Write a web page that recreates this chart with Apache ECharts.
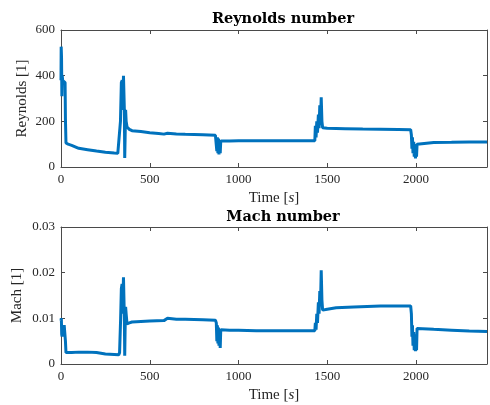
<!DOCTYPE html>
<html>
<head>
<meta charset="utf-8">
<script src="https://cdn.jsdelivr.net/npm/echarts@6/dist/echarts.min.js"></script>
<style>
html, body { margin: 0; padding: 0; background: #fff; }
#chart { width: 490px; height: 405px; }
</style>
</head>
<body>
<div id="chart"></div>
<script>
// time samples [s] and Reynolds number
var timeRe = [0, 1, 3, 5, 7, 9, 15, 20, 23, 25, 28, 32, 40, 60, 100, 150, 200, 250, 300, 320,
	328, 335, 340, 345, 348, 352, 355, 357, 359, 361, 364, 367, 372, 385, 400, 450, 500, 550, 580, 590,
	600, 650, 700, 800, 870, 875, 878, 881, 884, 887, 890, 893, 897, 900, 950, 1000, 1100, 1200, 1300, 1400,
	1430, 1433, 1437, 1441, 1445, 1450, 1454, 1458, 1462, 1466, 1470, 1474, 1500, 1600, 1700, 1800, 1900, 1970, 1974, 1977,
	1980, 1983, 1987, 1990, 1994, 1997, 2000, 2003, 2006, 2010, 2100, 2200, 2300, 2400];
var reynolds = [380, 527, 480, 310, 400, 380, 385, 375, 370, 210, 105, 104, 100, 95, 82, 76, 70, 65, 61, 60,
	62, 200, 370, 380, 250, 400, 405, 250, 40, 120, 250, 200, 175, 165, 159, 155, 150, 147, 144, 150,
	148, 145, 143, 141, 139, 135, 70, 130, 60, 125, 55, 110, 60, 114, 114, 115, 115, 115, 115, 115,
	115, 180, 130, 200, 150, 230, 170, 270, 200, 305, 200, 172, 170, 168, 166, 165, 164, 163, 140, 80,
	130, 60, 110, 45, 100, 38, 90, 45, 100, 106, 107, 108, 110, 110];

// time samples [s] and Mach number
var timeMa = [0, 2, 4, 6, 9, 13, 18, 22, 25, 28, 35, 60, 100, 150, 200, 250, 300, 325, 330, 336,
	340, 344, 347, 352, 355, 357, 359, 361, 364, 367, 372, 385, 400, 500, 580, 600, 650, 700, 800, 870,
	875, 878, 881, 884, 887, 890, 894, 897, 900, 950, 1000, 1100, 1200, 1300, 1400, 1430, 1433, 1437, 1441, 1445,
	1450, 1454, 1458, 1462, 1466, 1470, 1474, 1500, 1550, 1650, 1800, 1900, 1970, 1974, 1977, 1980, 1983, 1987, 1990, 1994,
	1997, 2000, 2003, 2006, 2010, 2100, 2200, 2300, 2400];
var mach = [0.0095, 0.0100, 0.0065, 0.0060, 0.0080, 0.0070, 0.0085, 0.0086, 0.0050, 0.0025, 0.0024, 0.0025, 0.0026, 0.0026, 0.0025, 0.0022, 0.0021, 0.0020, 0.0025, 0.0100,
	0.0165, 0.0175, 0.0110, 0.0190, 0.0192, 0.0100, 0.0018, 0.0070, 0.0125, 0.0110, 0.0088, 0.0090, 0.0092, 0.0094, 0.0095, 0.0100, 0.0098, 0.0098, 0.0097, 0.0096,
	0.0090, 0.0050, 0.0085, 0.0045, 0.0080, 0.0040, 0.0070, 0.0035, 0.0075, 0.0074, 0.0074, 0.0073, 0.0073, 0.0073, 0.0073, 0.0073, 0.0090, 0.0075, 0.0110, 0.0090,
	0.0135, 0.0110, 0.0160, 0.0130, 0.0205, 0.0140, 0.0118, 0.0120, 0.0123, 0.0125, 0.0127, 0.0127, 0.0127, 0.0110, 0.0060, 0.0085, 0.0040, 0.0070, 0.0030, 0.0065,
	0.0028, 0.0060, 0.0030, 0.0078, 0.0078, 0.0076, 0.0074, 0.0072, 0.0071];

var xTicks = [0, 500, 1000, 1500, 2000];
var reTicks = [0, 200, 400, 600];
var machTicks = ['0', '0.01', '0.02', '0.03'];

var pairs = function(xs, ys) {
	var out = [];
	for (var i = 0; i < xs.length; i++) {
		out.push([xs[i], ys[i]]);
	}
	return out;
};

var axisColor = '#4a4a4a';
var textColor = '#262626';
var serif = 'Liberation Serif';

// onZero off, otherwise the top/right box edges get pulled onto the zero line
var boxLine = { show: true, onZero: false, lineStyle: { color: axisColor, width: 1 } };
var boxTick = { show: true, inside: true, length: 4, lineStyle: { color: axisColor } };

var timeAxis = function(grid, pos) {
	var ax = {
		type: 'value',
		gridIndex: grid,
		position: pos,
		min: 0,
		max: 2400,
		interval: 500,
		splitLine: { show: false },
		axisLine: boxLine,
		axisTick: boxTick,
		axisLabel: { show: false }
	};
	if (pos == 'bottom') {
		ax.axisLabel = {
			show: true,
			margin: 6,
			color: textColor,
			fontFamily: serif,
			fontSize: 13,
			formatter: function(v) {
				return xTicks.indexOf(v) >= 0 ? String(v) : '';
			}
		};
		ax.name = '{a|Time [}{b|s}{a|]}';
		ax.nameLocation = 'middle';
		ax.nameGap = 24;
		ax.nameTextStyle = {
			rich: {
				a: { fontFamily: serif, fontSize: 15, color: textColor },
				b: { fontFamily: serif, fontSize: 15, fontStyle: 'italic', color: textColor }
			}
		};
	}
	return ax;
};

var valueAxis = function(grid, pos, max, interval, name, fmt) {
	var ax = {
		type: 'value',
		gridIndex: grid,
		position: pos,
		min: 0,
		max: max,
		interval: interval,
		splitLine: { show: false },
		axisLine: boxLine,
		axisTick: boxTick,
		axisLabel: { show: false }
	};
	if (pos == 'left') {
		ax.axisLabel = {
			show: true,
			margin: 6,
			color: textColor,
			fontFamily: serif,
			fontSize: 13,
			formatter: fmt
		};
		ax.name = name;
		ax.nameLocation = 'middle';
		ax.nameMoveOverlap = false;
		ax.nameGap = name == 'Mach [1]' ? 36 : 31;
		ax.nameTextStyle = { fontFamily: serif, fontSize: 15, color: textColor };
	}
	return ax;
};

var titleStyle = { fontFamily: 'DejaVu Serif', fontWeight: 'bold', fontSize: 14.5, color: '#000' };

var option = {
	animation: false,
	backgroundColor: '#fff',
	title: [{
		text: 'Reynolds number',
		left: 278,
		top: 7,
		textAlign: 'center',
		textStyle: titleStyle
	}, {
		text: 'Mach number',
		left: 278,
		top: 205,
		textAlign: 'center',
		textStyle: titleStyle
	}],
	grid: [
		{ left: 61, top: 30, width: 430, height: 137 },
		{ left: 61, top: 227, width: 430, height: 137 }
	],
	xAxis: [
		timeAxis(0, 'bottom'),
		timeAxis(0, 'top'),
		timeAxis(1, 'bottom'),
		timeAxis(1, 'top')
	],
	yAxis: [
		valueAxis(0, 'left', 600, 200, 'Reynolds [1]', function(v) {
			return reTicks.indexOf(v) >= 0 ? String(v) : '';
		}),
		valueAxis(0, 'right', 600, 200),
		valueAxis(1, 'left', 0.03, 0.01, 'Mach [1]', function(v) {
			return machTicks[Math.round(v / 0.01)] || '';
		}),
		valueAxis(1, 'right', 0.03, 0.01)
	],
	series: [{
		name: 'Reynolds',
		type: 'line',
		xAxisIndex: 0,
		yAxisIndex: 0,
		showSymbol: false,
		lineStyle: { color: '#0072BD', width: 3 },
		data: pairs(timeRe, reynolds)
	}, {
		name: 'Mach',
		type: 'line',
		xAxisIndex: 2,
		yAxisIndex: 2,
		showSymbol: false,
		lineStyle: { color: '#0072BD', width: 3 },
		data: pairs(timeMa, mach)
	}]
};

var chart = echarts.init(document.getElementById('chart'));
chart.setOption(option);
</script>
</body>
</html>
